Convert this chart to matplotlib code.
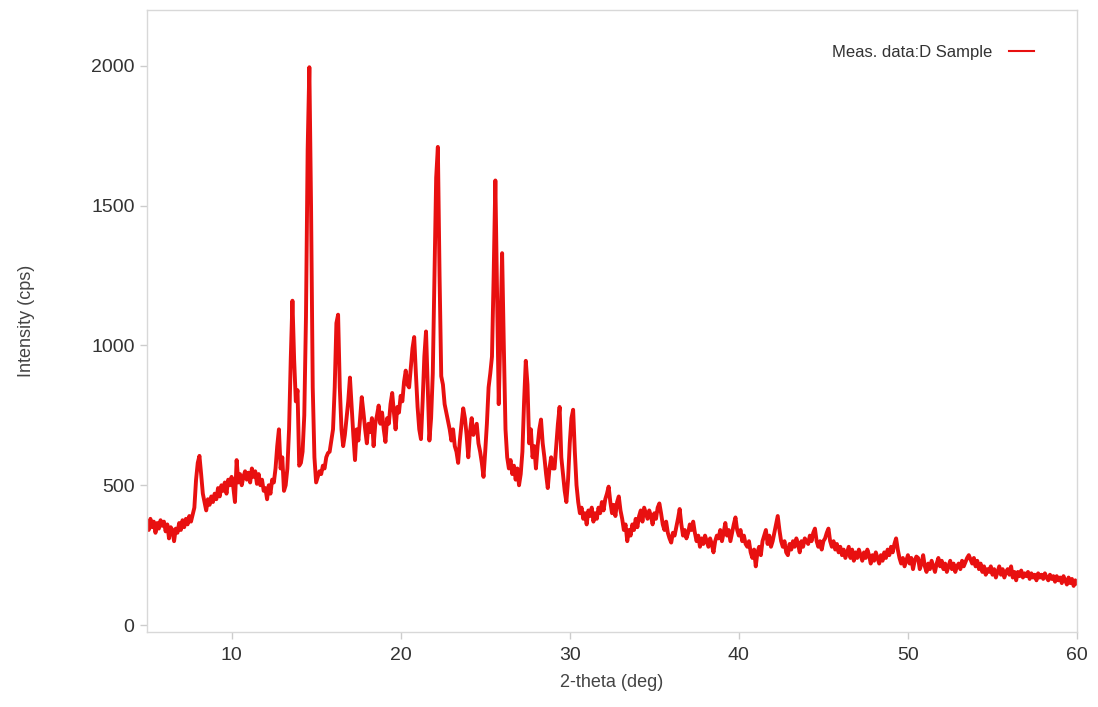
import numpy as np
import matplotlib
matplotlib.use("Agg")
import matplotlib.pyplot as plt

plt.rcParams['font.family'] = ['Liberation Sans', 'DejaVu Sans']

theta_start = 5.0
theta_step = 0.1
intensity = [
    # 5.x
    360, 340, 380, 350, 370, 330, 365, 345, 375, 355,
    # 6.x
    370, 335, 360, 310, 350, 340, 300, 345, 330, 365,
    # 7.x
    340, 375, 350, 380, 360, 390, 370, 395, 420, 520,
    # 8.x
    580, 605, 540, 470, 440, 410, 450, 430, 460, 440,
    # 9.x
    470, 450, 490, 460, 500, 480, 510, 470, 520, 500,
    # 10.x
    530, 495, 440, 590, 510, 540, 500, 530, 550, 520,
    # 11.x
    545, 510, 560, 530, 550, 505, 540, 500, 520, 480,
    # 12.x
    490, 450, 500, 470, 520, 510, 560, 640, 700, 560,
    # 13.x
    600, 480, 500, 560, 700, 950, 1160, 950, 800, 840,
    # 14.x
    570, 580, 620, 750, 1100, 1700, 1995, 1500, 850, 600,
    # 15.x
    510, 530, 550, 540, 570, 560, 600, 615, 620, 660,
    # 16.x
    700, 850, 1080, 1110, 850, 700, 640, 680, 740, 800,
    # 17.x
    885, 780, 680, 590, 700, 660, 740, 815, 760, 700,
    # 18.x
    650, 720, 690, 740, 640, 720, 750, 785, 720, 760,
    # 19.x
    700, 655, 740, 720, 790, 830, 760, 700, 780, 760,
    # 20.x
    820, 800, 870, 910, 860, 850, 920, 990, 1030, 900,
    # 21.x
    780, 700, 665, 800, 960, 1050, 850, 660, 740, 900,
    # 22.x
    1250, 1600, 1710, 1250, 890, 860, 790, 760, 730, 700,
    # 23.x
    660, 700, 640, 620, 580, 660, 720, 775, 740, 680,
    # 24.x
    600, 690, 740, 680, 700, 720, 650, 620, 580, 530,
    # 25.x
    620, 720, 850, 900, 960, 1250, 1590, 1200, 790, 1050,
    # 26.x
    1330, 1000, 700, 600, 560, 590, 540, 570, 520, 560,
    # 27.x
    500, 540, 620, 800, 945, 860, 650, 700, 600, 640,
    # 28.x
    560, 640, 700, 735, 650, 600, 540, 490, 560, 600,
    # 29.x
    560, 560, 640, 720, 780, 600, 540, 480, 440, 520,
    # 30.x
    650, 740, 770, 620, 500, 440, 400, 420, 380, 400,
    # 31.x
    360, 410, 390, 420, 370, 400, 380, 420, 400, 440,
    # 32.x
    410, 450, 470, 495, 440, 400, 430, 390, 440, 460,
    # 33.x
    410, 380, 340, 360, 300, 340, 320, 360, 340, 380,
    # 34.x
    350, 390, 410, 370, 420, 400, 380, 410, 390, 360,
    # 35.x
    400, 380, 420, 435, 400, 360, 340, 370, 330, 310,
    # 36.x
    295, 330, 320, 350, 380, 415, 360, 320, 340, 310,
    # 37.x
    330, 360, 340, 370, 330, 300, 320, 280, 310, 290,
    # 38.x
    320, 300, 280, 310, 290, 260, 300, 320, 310, 340,
    # 39.x
    300, 330, 365, 320, 340, 300, 330, 360, 385, 340,
    # 40.x
    320, 340, 300, 320, 290, 280, 300, 260, 240, 270,
    # 41.x
    210, 260, 280, 250, 300, 320, 340, 290, 320, 280,
    # 42.x
    300, 330, 360, 390, 340, 300, 280, 300, 260, 250,
    # 43.x
    290, 270, 300, 280, 310, 290, 260, 300, 280, 310,
    # 44.x
    300, 290, 320, 300, 330, 345, 300, 280, 300, 270,
    # 45.x
    300, 310, 330, 345, 300, 280, 300, 270, 290, 260,
    # 46.x
    280, 250, 270, 240, 260, 280, 240, 270, 230, 260,
    # 47.x
    240, 270, 250, 230, 260, 240, 270, 250, 220, 250,
    # 48.x
    230, 260, 240, 220, 250, 230, 260, 240, 270, 250,
    # 49.x
    280, 260, 290, 310, 270, 240, 220, 240, 210, 230,
    # 50.x
    250, 220, 240, 200, 230, 245, 240, 200, 220, 250,
    # 51.x
    210, 190, 220, 200, 230, 210, 190, 220, 240, 210,
    # 52.x
    230, 200, 220, 190, 210, 230, 200, 220, 190, 210,
    # 53.x
    220, 200, 230, 210, 225, 240, 250, 235, 220, 240,
    # 54.x
    210, 230, 200, 220, 190, 210, 180, 200, 190, 210,
    # 55.x
    180, 200, 170, 190, 210, 180, 200, 170, 190, 200,
    # 56.x
    180, 210, 170, 190, 160, 190, 175, 195, 170, 185,
    # 57.x
    175, 190, 165, 185, 170, 180, 160, 185, 170, 180,
    # 58.x
    165, 185, 170, 160, 180, 165, 175, 155, 175, 160,
    # 59.x
    170, 150, 175, 160, 145, 170, 150, 165, 140, 160,
    # 60.0
    150,
]
two_theta = theta_start + theta_step * np.arange(len(intensity))

x_ticks = [10, 20, 30, 40, 50, 60]
y_ticks = [0, 500, 1000, 1500, 2000]
series_label = "Meas. data:D Sample"

fig = plt.figure(figsize=(10.98, 7.07), dpi=100)
ax = fig.add_axes([0.1339, 0.106, 0.8470, 0.880])

ax.plot(two_theta, intensity, color='#e81010', linewidth=2.8, label=series_label)

ax.set_xlim(5, 60)
ax.set_ylim(-25, 2200)
ax.set_xticks(x_ticks)
ax.set_yticks(y_ticks)

for s in ax.spines.values():
    s.set_color('#d8d8d8')
    s.set_linewidth(1.0)
ax.tick_params(axis='both', colors='#cccccc', labelcolor='#333333',
               labelsize=14, length=5, width=1, direction='out')
ax.tick_params(axis='x', pad=6)
ax.tick_params(axis='y', pad=4)

ax.set_xlabel("2-theta (deg)", fontsize=13, color='#444444', labelpad=7)
ax.set_ylabel("Intensity (cps)", fontsize=13, color='#444444', labelpad=40)

leg = ax.legend(loc='upper right', bbox_to_anchor=(0.97, 0.968), frameon=False,
                markerfirst=False, fontsize=12, handlelength=1.5, handletextpad=1.0)
for t in leg.get_texts():
    t.set_color('#333333')
for h in leg.get_lines():
    h.set_linewidth(1.5)

fig.savefig("out.png", dpi=100)
